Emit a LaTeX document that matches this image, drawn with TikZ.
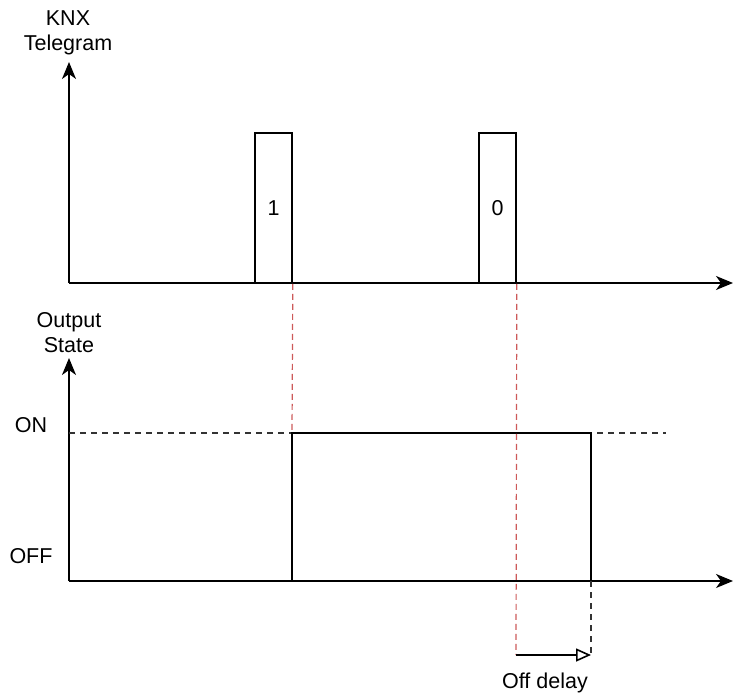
\documentclass[tikz,border=0pt]{standalone}
\usepackage{fontspec}
\setmainfont{Liberation Sans}
\usetikzlibrary{arrows.meta}

\definecolor{trig}{RGB}{205,90,90}

\begin{document}
\begin{tikzpicture}[
  x=1pt, y=-1pt,
  line width=1.6pt,
  every node/.style={font=\fontsize{21.5}{25}\selectfont, align=center},
  axis/.style={-{Stealth[length=17pt,width=14pt,inset=5pt]}},
  pulse/.style={draw, minimum width=37pt, minimum height=150pt, inner sep=0pt},
  level/.style={dashed, dash pattern=on 6pt off 5pt, black!80},
  trigger/.style={dashed, dash pattern=on 6pt off 4pt, trig, line width=1.2pt},
]
\useasboundingbox (0,0) rectangle (733,698);

% telegram axis
\coordinate (t0) at (69,283);
\coordinate (ttop) at (69,62);
\coordinate (tend) at (733,283);
\node (tlab) at (68,33) {KNX\\Telegram};
\draw[axis] (t0) -- (ttop);
\draw[axis] (t0) -- (tend);

\node[pulse] (p1) at (273.5,208) {1};
\node[pulse] (p0) at (497.5,208) {0};

% output axis
\coordinate (s0) at (69,581);
\coordinate (stop) at (69,358);
\coordinate (send) at (733,581);
\node (slab) at (69,333) {Output\\State};
\node (on) at (31,425) {ON};
\node (off) at (31,556) {OFF};
\draw[axis] (s0) -- (stop);
\draw[axis] (s0) -- (send);

\coordinate (onl) at (69,433);
\coordinate (onr) at (666,433);
\draw[level] (onl) -- (onr);

% output signal
\coordinate (rise) at (292,581);
\coordinate (fall) at (591,581);
\draw (rise) -- (292,433) -- (591,433) -- (fall);

% delay
\coordinate (d0) at (516,655);
\coordinate (d1) at (591,655);
\draw[trigger] (p1.south east) -- (292,433);
\draw[trigger] (p0.south east) -- (d0);
\draw[level] (fall) -- (d1);
\draw[-{Triangle[open,length=15pt,width=13pt]}] (d0) -- (d1);
\node (dlab) at (545,683) {Off delay};

\end{tikzpicture}
\end{document}
